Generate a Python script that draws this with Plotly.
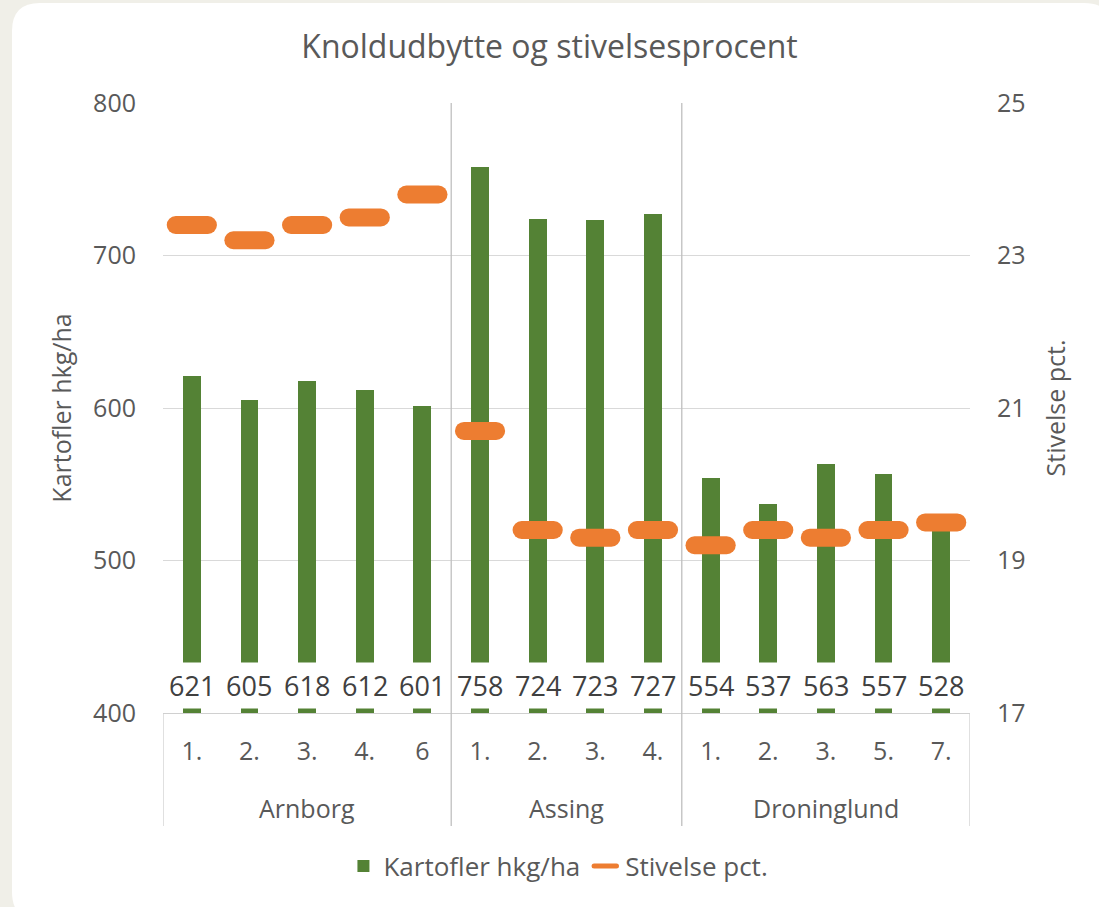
import plotly.graph_objects as go

groups = ["Arnborg"] * 5 + ["Assing"] * 4 + ["Droninglund"] * 5
subs = ["1.", "2.", "3.", "4.", "6", "1.", "2.", "3.", "4.", "1.", "2.", "3.", "5.", "7."]
kartofler = [621, 605, 618, 612, 601, 758, 724, 723, 727, 554, 537, 563, 557, 528]
stivelse = [23.4, 23.2, 23.4, 23.5, 23.8, 20.7, 19.4, 19.3, 19.4, 19.2, 19.4, 19.3, 19.4, 19.5]
group_names = ["Arnborg", "Assing", "Droninglund"]

W, H = 1099, 907
L, R, T, B = 163, 129, 103, 194
PW, PH = W - L - R, H - T - B

GREEN = "#548235"
ORANGE = "#ED7D31"
TXT = "#595959"
BEIGE = "#f0efe8"
FONT = "Open Sans"

xs = list(range(len(subs)))

def px_x(px):
    return (px - L) / PW

def px_y(py):
    return (H - B - py) / PH

fig = go.Figure()
fig.add_trace(go.Bar(
    x=xs, y=kartofler, name="Kartofler hkg/ha",
    marker=dict(color=GREEN, line=dict(width=0)),
    width=0.31, yaxis="y",
))
fig.add_trace(go.Scatter(
    x=xs, y=stivelse, name="Stivelse pct.", mode="markers",
    marker=dict(symbol="line-ew", size=23, color=ORANGE,
                line=dict(color=ORANGE, width=18)),
    yaxis="y2",
))

annotations = []
for xi, v in zip(xs, kartofler):
    annotations.append(dict(
        x=xi, y=418, xref="x", yref="y", text=str(v), showarrow=False,
        font=dict(family=FONT, size=27, color="#404040"),
        bgcolor="white", borderpad=4,
    ))
for g in group_names:
    idx = [i for i, gg in enumerate(groups) if gg == g]
    annotations.append(dict(
        x=sum(idx) / len(idx), y=px_y(808), xref="x", yref="paper",
        text=g, showarrow=False, yanchor="middle",
        font=dict(family=FONT, size=25, color=TXT),
    ))

shapes = []
x0, x1 = px_x(12), px_x(1112)
y0, y1 = px_y(3), px_y(920)
r = 28
rx, ry = r / PW, r / PH
card = (f"M {x0+rx},{y0} L {x1-rx},{y0} Q {x1},{y0} {x1},{y0-ry} "
        f"L {x1},{y1+ry} Q {x1},{y1} {x1-rx},{y1} L {x0+rx},{y1} "
        f"Q {x0},{y1} {x0},{y1+ry} L {x0},{y0-ry} Q {x0},{y0} {x0+rx},{y0} Z")
shapes.append(dict(type="path", path=card, xref="paper", yref="paper",
                   fillcolor="white", line=dict(width=0), layer="below"))
bounds = [i - 0.5 for i in range(1, len(groups)) if groups[i] != groups[i - 1]]
for b in bounds:
    shapes.append(dict(type="line", xref="x", yref="paper", x0=b, x1=b,
                       y0=1, y1=px_y(826), line=dict(color="#bfbfbf", width=1.3),
                       layer="above"))
for b in [-0.5, len(subs) - 0.5]:
    shapes.append(dict(type="line", xref="x", yref="paper", x0=b, x1=b,
                       y0=0, y1=px_y(826), line=dict(color="#d0d0d0", width=1.3),
                       layer="above"))

fig.update_layout(
    width=W, height=H,
    margin=dict(l=L, r=R, t=T, b=B),
    paper_bgcolor=BEIGE, plot_bgcolor="white",
    font=dict(family=FONT, color=TXT),
    title=dict(text="Knoldudbytte og stivelsesprocent", x=0.5, xanchor="center",
               y=1 - 47 / H, yanchor="middle",
               font=dict(family=FONT, size=32, color=TXT)),
    xaxis=dict(range=[-0.5, len(subs) - 0.5], tickvals=xs, ticktext=subs,
               tickfont=dict(size=25, color=TXT), showgrid=False, zeroline=False,
               showline=True, linecolor="#d0d0d0", linewidth=1.3,
               ticks="", ticklabelstandoff=16),
    yaxis=dict(range=[400, 800], dtick=100, showgrid=True, gridcolor="#d9d9d9",
               gridwidth=1.3, zeroline=False, tickfont=dict(size=25, color=TXT),
               ticklabelstandoff=26,
               title=dict(text="Kartofler hkg/ha", font=dict(size=25, color=TXT),
                          standoff=14)),
    yaxis2=dict(range=[17, 25], tickvals=[17, 19, 21, 23, 25], overlaying="y",
                side="right", showgrid=False, zeroline=False,
                tickfont=dict(size=25, color=TXT), ticklabelstandoff=26,
                title=dict(text="Stivelse pct.", font=dict(size=25, color=TXT),
                           standoff=22)),
    bargap=0,
    legend=dict(orientation="h", x=0.49, xanchor="center", y=px_y(866),
                yanchor="middle", font=dict(size=26, color=TXT),
                bgcolor="rgba(0,0,0,0)", itemwidth=30),
    annotations=annotations,
    shapes=shapes,
    showlegend=True,
)

post = (
    "document.body.style.margin='0';"
    f"document.body.style.background='{BEIGE}';"
    "document.documentElement.style.overflow='hidden';"
    "var st=document.createElement('style');"
    "st.textContent='.scatterlayer path.point, .legendpoints path.scatterpts"
    "{stroke-linecap:round;}';"
    "document.head.appendChild(st);"
)
fig.write_html("out.html", post_script=post, config={"displayModeBar": False})
